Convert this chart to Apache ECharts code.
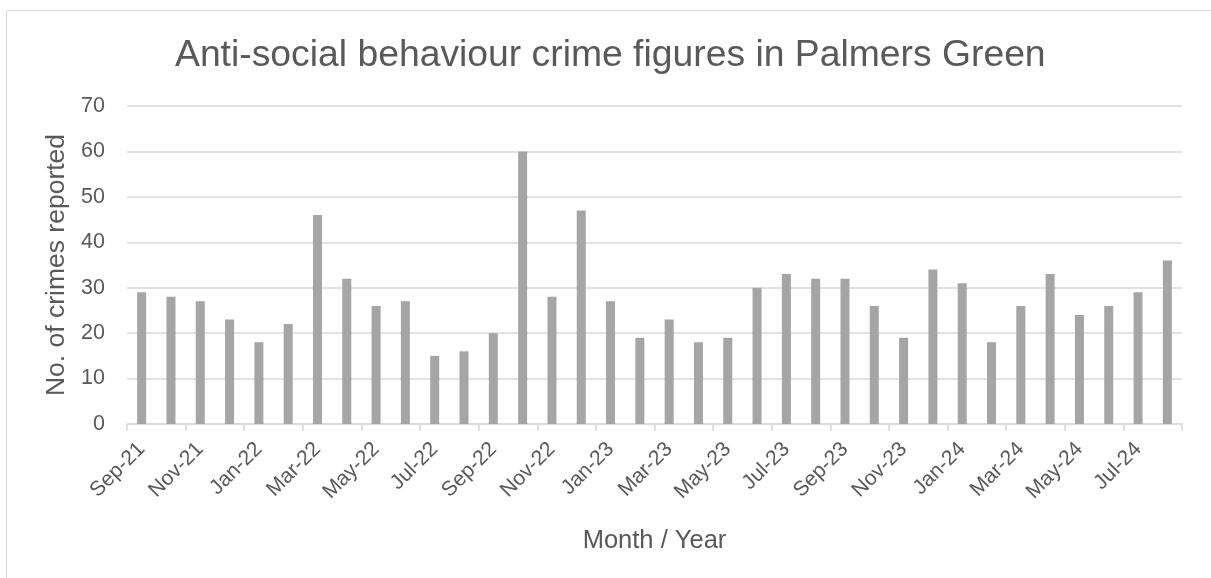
<!DOCTYPE html>
<html>
<head>
<meta charset="utf-8">
<script src="https://cdn.jsdelivr.net/npm/echarts@6/dist/echarts.min.js"></script>
<style>
html,body{margin:0;padding:0;background:#fff;}
#chart{width:1211px;height:578px;}
</style>
</head>
<body>
<div id="chart"></div>
<script>
var categories = ["Sep-21","Oct-21","Nov-21","Dec-21","Jan-22","Feb-22","Mar-22","Apr-22","May-22","Jun-22","Jul-22","Aug-22",
  "Sep-22","Oct-22","Nov-22","Dec-22","Jan-23","Feb-23","Mar-23","Apr-23","May-23","Jun-23","Jul-23","Aug-23",
  "Sep-23","Oct-23","Nov-23","Dec-23","Jan-24","Feb-24","Mar-24","Apr-24","May-24","Jun-24","Jul-24","Aug-24"];
var crimes = [29,28,27,23,18,22,46,32,26,27,15,16,20,60,28,47,27,19,23,18,19,30,33,32,32,26,19,34,31,18,26,33,24,26,29,36];
var yTicks = {min:0, max:70, interval:10};
var titleText = "Anti-social behaviour crime figures in Palmers Green";
var xName = "Month / Year";
var yName = "No. of crimes reported";

var FONT = "'Liberation Sans', Arial, sans-serif";
var TXT = "#595959";
var chart = echarts.init(document.getElementById('chart'), null, {renderer:'canvas'});
chart.setOption({
  animation:false,
  backgroundColor:'#ffffff',
  graphic:[{type:'rect', shape:{x:6.5,y:10.5,width:1400,height:800}, style:{fill:'none', stroke:'#d9d9d9', lineWidth:1}, silent:true, z:-10}],
  title:{text:titleText, left:175, top:37, padding:0,
    textStyle:{fontFamily:FONT, fontSize:37.3, fontWeight:'normal', color:TXT}},
  grid:{left:127, right:29, top:106, bottom:154, containLabel:false},
  xAxis:{type:'category', data:categories, boundaryGap:true,
    name:xName, nameLocation:'middle', nameGap:104,
    nameTextStyle:{fontFamily:FONT, fontSize:25.5, color:TXT},
    axisLine:{lineStyle:{color:'#d9d9d9', width:1.5}},
    axisTick:{show:true, interval:1, length:7, lineStyle:{color:'#d9d9d9', width:1.5}},
    axisLabel:{interval:1, rotate:45, margin:22, fontFamily:FONT, fontSize:21, color:TXT}},
  yAxis:{type:'value', min:yTicks.min, max:yTicks.max, interval:yTicks.interval,
    name:yName, nameLocation:'middle', nameGap:50,
    nameTextStyle:{fontFamily:FONT, fontSize:26.5, color:TXT},
    axisLine:{show:false}, axisTick:{show:false},
    axisLabel:{margin:22, fontFamily:FONT, fontSize:21.5, color:TXT},
    splitLine:{lineStyle:{color:'#d9d9d9', width:1.5}}},
  series:[{type:'bar', data:crimes, barWidth:9, itemStyle:{color:'#a5a5a5'}}]
});
</script>
</body>
</html>
